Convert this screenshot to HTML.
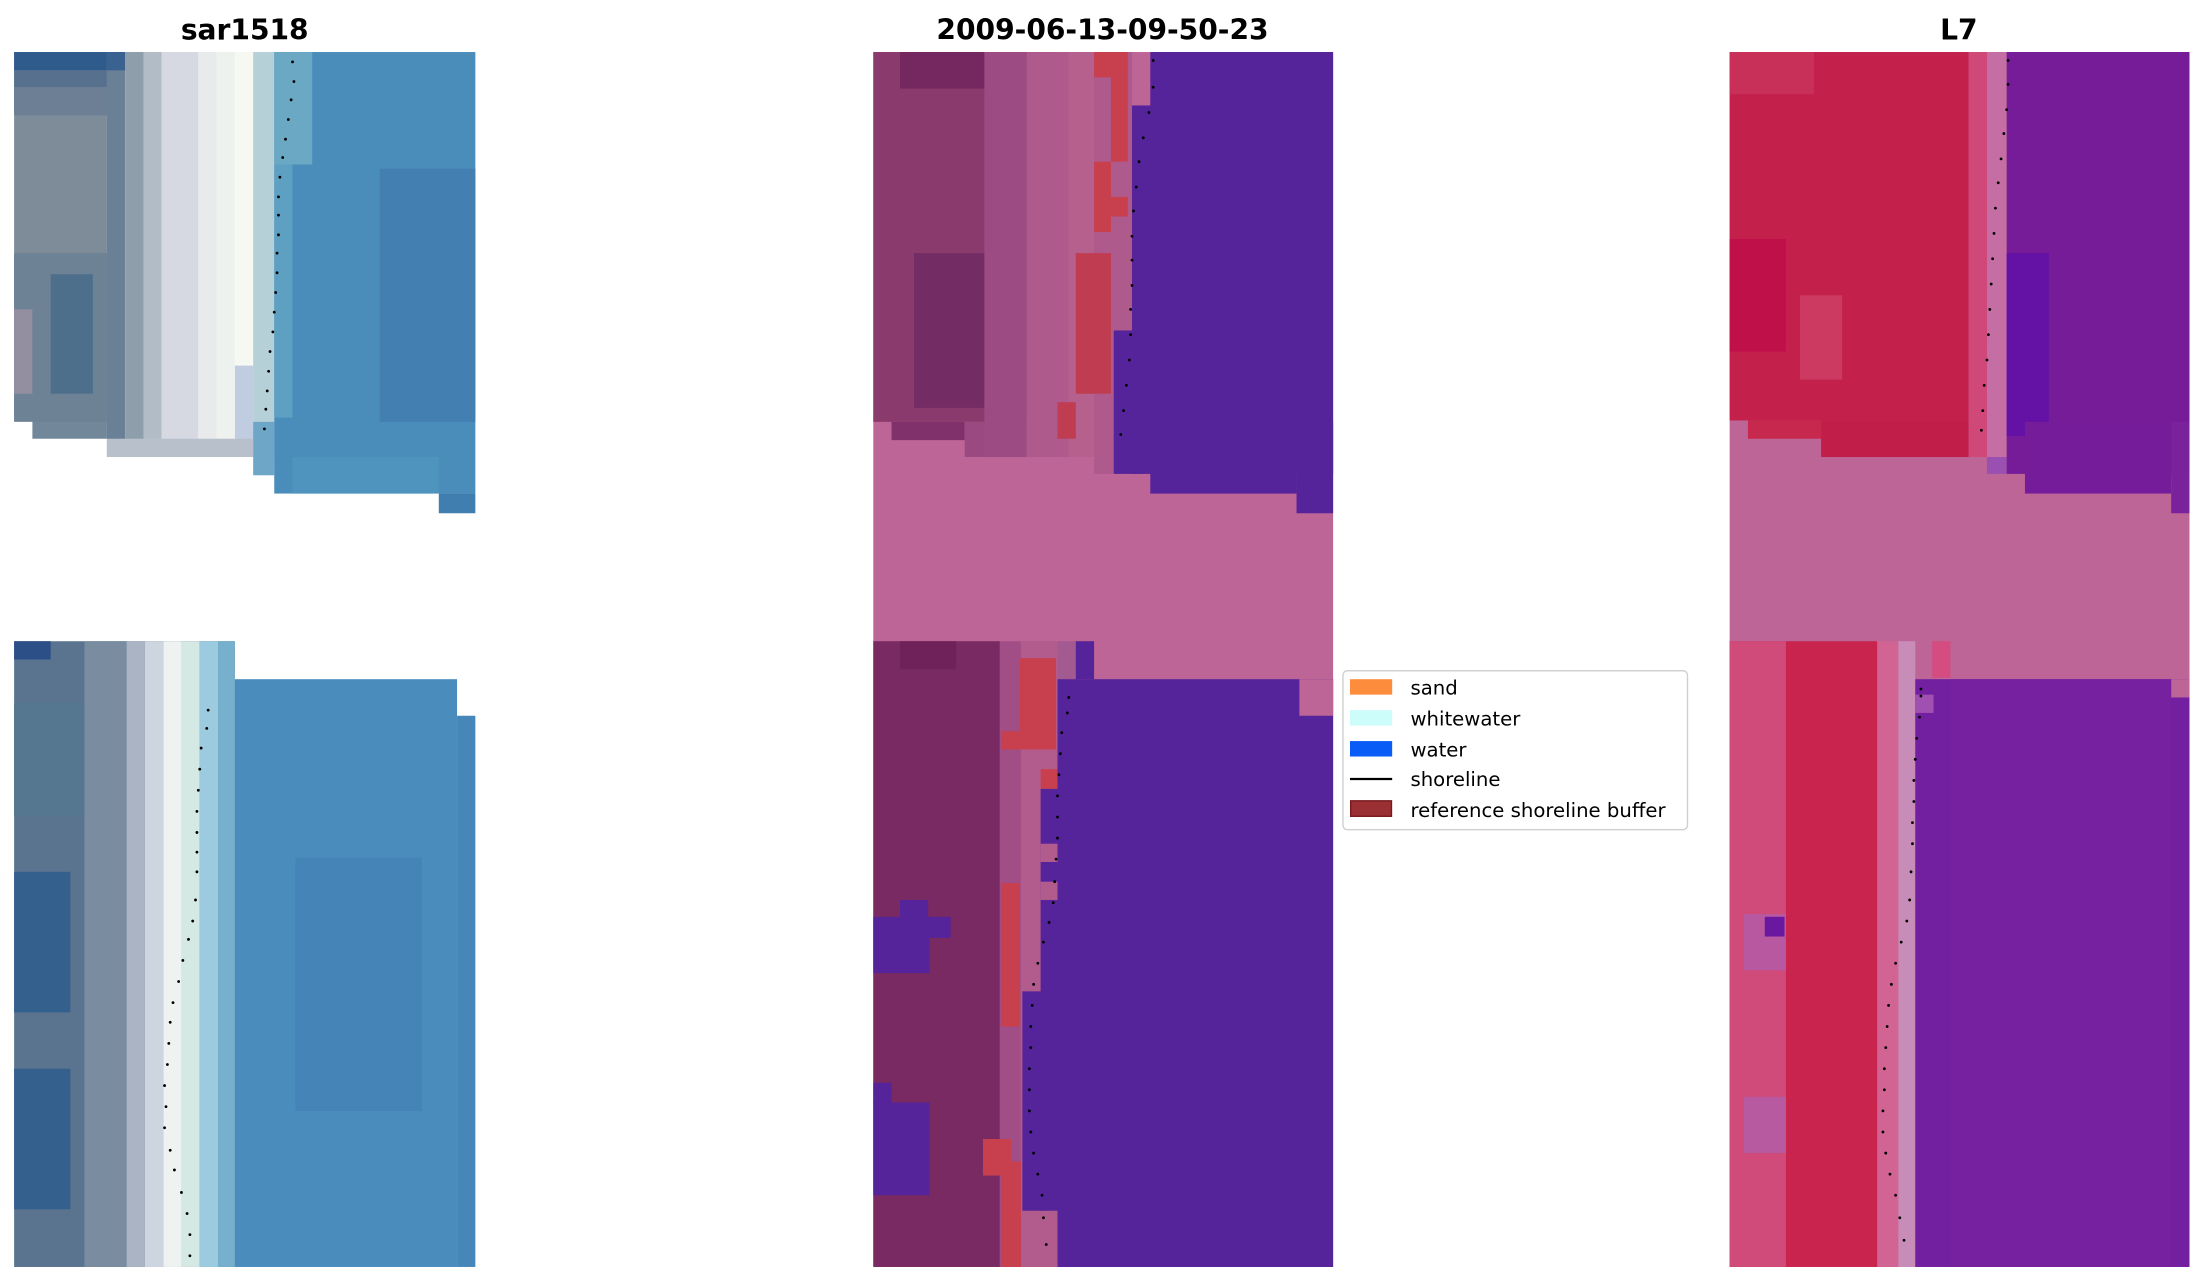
<!DOCTYPE html>
<html><head><meta charset="utf-8"><style>
html,body{margin:0;padding:0;background:#fff;width:2205px;height:1283px;overflow:hidden}
svg{display:block}
text{font-family:"DejaVu Sans","Liberation Sans",sans-serif}
</style></head><body>
<svg width="2205" height="1283" viewBox="0 0 1568 912.4" xmlns="http://www.w3.org/2000/svg">
<text x="174" y="28" font-size="20" font-weight="bold" text-anchor="middle">sar1518</text>
<text x="784" y="28" font-size="20" font-weight="bold" text-anchor="middle">2009-06-13-09-50-23</text>
<text x="1393" y="28" font-size="20" font-weight="bold" text-anchor="middle">L7</text>

<!-- PANEL 1 TOP -->
<g>
<rect x="10" y="37" width="66" height="262" fill="#7e8b99"/>
<rect x="23" y="299" width="53" height="13" fill="#72889a"/>
<rect x="10" y="37" width="66" height="13" fill="#2f5a8c"/>
<rect x="10" y="50" width="66" height="12" fill="#56708e"/>
<rect x="10" y="62" width="66" height="20" fill="#6c7f94"/>
<rect x="10" y="180" width="66" height="120" fill="#6e8296"/>
<rect x="36" y="195" width="30" height="85" fill="#4d6f8c"/>
<rect x="10" y="220" width="13" height="60" fill="#948fa0"/>
<rect x="76" y="37" width="13" height="288" fill="#6a8096"/>
<rect x="76" y="37" width="13" height="13" fill="#3a6290"/>
<rect x="89" y="37" width="13" height="288" fill="#8e9eaa"/>
<rect x="102" y="37" width="13" height="288" fill="#b2bcc6"/>
<rect x="115" y="37" width="26" height="288" fill="#d6d9e2"/>
<rect x="141" y="37" width="13" height="288" fill="#e8eaec"/>
<rect x="154" y="37" width="13" height="288" fill="#eef2ee"/>
<rect x="167" y="37" width="13" height="288" fill="#f6f8f2"/>
<rect x="167" y="260" width="13" height="65" fill="#c0cce0"/>
<rect x="180" y="37" width="15" height="288" fill="#b6d0d8"/>
<rect x="180" y="300" width="15" height="38" fill="#6ea6c8"/>
<rect x="195" y="37" width="143" height="314" fill="#4a8cba"/>
<rect x="195" y="37" width="27" height="80" fill="#6aa8c4"/>
<rect x="195" y="117" width="13" height="180" fill="#5ea0c2"/>
<rect x="208" y="325" width="104" height="26" fill="#4e94be"/>
<rect x="270" y="120" width="68" height="180" fill="#437fb0"/>
<rect x="312" y="351" width="26" height="14" fill="#3f7eae"/>
<rect x="76" y="312" width="104" height="13" fill="#b8c0cc"/>
</g>
<!-- PANEL 1 BOTTOM -->
<g>
<rect x="10" y="456" width="157" height="445" fill="#5a7490"/>
<rect x="10" y="456" width="26" height="13" fill="#2c4f88"/>
<rect x="10" y="500" width="50" height="80" fill="#557890"/>
<rect x="10" y="620" width="40" height="100" fill="#34608e"/>
<rect x="10" y="760" width="40" height="100" fill="#33608c"/>
<rect x="60" y="456" width="30" height="445" fill="#7a8ca0"/>
<rect x="90" y="456" width="13" height="445" fill="#aab4c4"/>
<rect x="103" y="456" width="13" height="445" fill="#cdd6e0"/>
<rect x="116" y="456" width="13" height="445" fill="#eef2f0"/>
<rect x="129" y="456" width="13" height="445" fill="#d4e8e4"/>
<rect x="142" y="456" width="13" height="445" fill="#9ccade"/>
<rect x="155" y="456" width="12" height="445" fill="#76b0cc"/>
<rect x="167" y="483" width="158" height="418" fill="#4a8cbc"/>
<rect x="325" y="509" width="13" height="392" fill="#4686b8"/>
<rect x="210" y="610" width="90" height="180" fill="#4584b6"/>
</g>
<g fill="#000">
<circle cx="208" cy="44" r="1"/><circle cx="209" cy="58" r="1"/><circle cx="207" cy="71" r="1"/><circle cx="205" cy="85" r="1"/><circle cx="203" cy="99" r="1"/><circle cx="201" cy="112" r="1"/><circle cx="199" cy="126" r="1"/><circle cx="198" cy="140" r="1"/><circle cx="198" cy="153" r="1"/><circle cx="198" cy="167" r="1"/><circle cx="197" cy="180" r="1"/><circle cx="197" cy="194" r="1"/><circle cx="196" cy="208" r="1"/><circle cx="195" cy="222" r="1"/><circle cx="194" cy="236" r="1"/><circle cx="192" cy="250" r="1"/><circle cx="191" cy="264" r="1"/><circle cx="190" cy="278" r="1"/><circle cx="189" cy="291" r="1"/><circle cx="188" cy="305" r="1"/>
<circle cx="148" cy="505" r="1"/><circle cx="147" cy="518" r="1"/><circle cx="143" cy="532" r="1"/><circle cx="142" cy="547" r="1"/><circle cx="141" cy="562" r="1"/><circle cx="140" cy="577" r="1"/><circle cx="140" cy="592" r="1"/><circle cx="140" cy="606" r="1"/><circle cx="140" cy="620" r="1"/><circle cx="139" cy="640" r="1"/><circle cx="137" cy="655" r="1"/><circle cx="134" cy="668" r="1"/><circle cx="130" cy="683" r="1"/><circle cx="127" cy="698" r="1"/><circle cx="123" cy="713" r="1"/><circle cx="121" cy="727" r="1"/><circle cx="120" cy="742" r="1"/><circle cx="119" cy="757" r="1"/><circle cx="117" cy="772" r="1"/><circle cx="118" cy="787" r="1"/><circle cx="117" cy="802" r="1"/><circle cx="121" cy="818" r="1"/><circle cx="124" cy="832" r="1"/><circle cx="129" cy="848" r="1"/><circle cx="133" cy="863" r="1"/><circle cx="135" cy="878" r="1"/><circle cx="135" cy="893" r="1"/>
</g>

<!-- PANEL 2 -->
<g>
<rect x="621" y="37" width="327" height="864" fill="#bd6596"/>
<rect x="621" y="37" width="130" height="263" fill="#8a3a6c"/>
<rect x="634" y="300" width="52" height="13" fill="#80306a"/>
<rect x="686" y="300" width="65" height="25" fill="#9a4a80"/>
<rect x="640" y="37" width="60" height="26" fill="#74285f"/>
<rect x="650" y="180" width="50" height="110" fill="#742c64"/>
<rect x="700" y="37" width="30" height="288" fill="#9c4c82"/>
<rect x="730" y="37" width="30" height="288" fill="#ae5a8c"/>
<rect x="760" y="37" width="18" height="288" fill="#b6608e"/>
<rect x="778" y="37" width="27" height="300" fill="#ae5a8c"/>
<rect x="778" y="37" width="24" height="18" fill="#c8404e"/>
<rect x="790" y="55" width="12" height="60" fill="#c8404e"/>
<rect x="790" y="140" width="12" height="14" fill="#c8404e"/>
<rect x="778" y="115" width="12" height="50" fill="#c8404e"/>
<rect x="765" y="180" width="25" height="100" fill="#c03c50"/>
<rect x="752" y="286" width="13" height="26" fill="#c03c50"/>
<rect x="818" y="37" width="130" height="300" fill="#55239a"/>
<rect x="805" y="75" width="20" height="262" fill="#55239a"/>
<rect x="792" y="235" width="20" height="102" fill="#55239a"/>
<rect x="818" y="300" width="104" height="51" fill="#55239a"/>
<rect x="922" y="300" width="26" height="65" fill="#55239a"/>
<rect x="621" y="456" width="90" height="445" fill="#7a2a62"/>
<rect x="640" y="456" width="40" height="20" fill="#6e2259"/>
<rect x="711" y="456" width="15" height="445" fill="#a24e86"/>
<rect x="726" y="456" width="26" height="445" fill="#b25c8e"/>
<rect x="752" y="456" width="13" height="27" fill="#a25a90"/>
<rect x="765" y="456" width="13" height="27" fill="#55239a"/>
<rect x="725" y="468" width="26" height="65" fill="#c8404e"/>
<rect x="712" y="520" width="38" height="13" fill="#c8404e"/>
<rect x="740" y="547" width="13" height="14" fill="#c8404e"/>
<rect x="712" y="628" width="13" height="102" fill="#c8404e"/>
<rect x="699" y="810" width="20" height="26" fill="#c8404e"/>
<rect x="712" y="826" width="14" height="75" fill="#c8404e"/>
<rect x="752" y="483" width="196" height="418" fill="#55239a"/>
<rect x="740" y="561" width="15" height="300" fill="#55239a"/>
<rect x="727" y="705" width="15" height="156" fill="#55239a"/>
<rect x="740" y="600" width="12" height="13" fill="#b25c8e"/>
<rect x="740" y="627" width="12" height="13" fill="#b25c8e"/>
<rect x="924" y="483" width="24" height="26" fill="#bd6596"/>
<rect x="621" y="652" width="40" height="40" fill="#55239a"/>
<rect x="640" y="640" width="20" height="14" fill="#55239a"/>
<rect x="661" y="652" width="15" height="15" fill="#55239a"/>
<rect x="621" y="770" width="13" height="15" fill="#55239a"/>
<rect x="621" y="784" width="40" height="66" fill="#55239a"/>
</g>
<g fill="#000">
<circle cx="820" cy="43" r="1"/><circle cx="820" cy="62" r="1"/><circle cx="817" cy="80" r="1"/><circle cx="813" cy="98" r="1"/><circle cx="810" cy="115" r="1"/><circle cx="808" cy="133" r="1"/><circle cx="806" cy="150" r="1"/><circle cx="805" cy="168" r="1"/><circle cx="805" cy="185" r="1"/><circle cx="805" cy="203" r="1"/><circle cx="804" cy="220" r="1"/><circle cx="804" cy="238" r="1"/><circle cx="803" cy="256" r="1"/><circle cx="801" cy="274" r="1"/><circle cx="799" cy="292" r="1"/><circle cx="797" cy="309" r="1"/>
<circle cx="760" cy="496" r="1"/><circle cx="759" cy="507" r="1"/><circle cx="755" cy="521" r="1"/><circle cx="754" cy="536" r="1"/><circle cx="753" cy="551" r="1"/><circle cx="752" cy="566" r="1"/><circle cx="752" cy="581" r="1"/><circle cx="752" cy="596" r="1"/><circle cx="751" cy="611" r="1"/><circle cx="750" cy="627" r="1"/><circle cx="749" cy="642" r="1"/><circle cx="746" cy="656" r="1"/><circle cx="742" cy="670" r="1"/><circle cx="738" cy="685" r="1"/><circle cx="735" cy="700" r="1"/><circle cx="734" cy="715" r="1"/><circle cx="733" cy="730" r="1"/><circle cx="733" cy="745" r="1"/><circle cx="732" cy="760" r="1"/><circle cx="732" cy="775" r="1"/><circle cx="732" cy="790" r="1"/><circle cx="733" cy="805" r="1"/><circle cx="735" cy="820" r="1"/><circle cx="738" cy="835" r="1"/><circle cx="741" cy="850" r="1"/><circle cx="742" cy="866" r="1"/><circle cx="744" cy="885" r="1"/>
</g>

<!-- PANEL 3 -->
<g>
<rect x="1230" y="37" width="327" height="864" fill="#bd6596"/>
<rect x="1230" y="37" width="170" height="262" fill="#c4204c"/>
<rect x="1243" y="299" width="52" height="13" fill="#c6284e"/>
<rect x="1295" y="299" width="105" height="26" fill="#c21e4a"/>
<rect x="1230" y="37" width="60" height="30" fill="#c8305a"/>
<rect x="1230" y="170" width="40" height="80" fill="#c0104a"/>
<rect x="1280" y="210" width="30" height="60" fill="#cc3a62"/>
<rect x="1400" y="37" width="13" height="288" fill="#d04878"/>
<rect x="1413" y="37" width="14" height="300" fill="#c46ea4"/>
<rect x="1413" y="325" width="14" height="12" fill="#9a50b0"/>
<rect x="1427" y="37" width="130" height="300" fill="#761c98"/>
<rect x="1427" y="180" width="30" height="130" fill="#6412a6"/>
<rect x="1440" y="300" width="104" height="51" fill="#741c9a"/>
<rect x="1544" y="300" width="13" height="65" fill="#7a229c"/>
<rect x="1230" y="456" width="105" height="445" fill="#c8244e"/>
<rect x="1230" y="456" width="40" height="445" fill="#d04a7a"/>
<rect x="1240" y="650" width="30" height="40" fill="#b858a0"/>
<rect x="1255" y="652" width="14" height="14" fill="#6a18a0"/>
<rect x="1240" y="780" width="30" height="40" fill="#b85aa0"/>
<rect x="1335" y="456" width="15" height="445" fill="#d26494"/>
<rect x="1350" y="456" width="12" height="445" fill="#c88cb8"/>
<rect x="1374" y="456" width="13" height="26" fill="#d44c80"/>
<rect x="1362" y="483" width="195" height="418" fill="#7220a0"/>
<rect x="1387" y="483" width="157" height="418" fill="#7622a0"/>
<rect x="1544" y="483" width="13" height="13" fill="#bd6596"/>
<rect x="1362" y="494" width="13" height="13" fill="#a050b0"/>
</g>
<g fill="#000">
<circle cx="1428" cy="43" r="1"/><circle cx="1428" cy="60" r="1"/><circle cx="1427" cy="78" r="1"/><circle cx="1425" cy="95" r="1"/><circle cx="1423" cy="113" r="1"/><circle cx="1421" cy="130" r="1"/><circle cx="1419" cy="148" r="1"/><circle cx="1418" cy="166" r="1"/><circle cx="1417" cy="184" r="1"/><circle cx="1416" cy="202" r="1"/><circle cx="1415" cy="220" r="1"/><circle cx="1414" cy="238" r="1"/><circle cx="1413" cy="256" r="1"/><circle cx="1411" cy="274" r="1"/><circle cx="1410" cy="292" r="1"/><circle cx="1409" cy="306" r="1"/>
<circle cx="1366" cy="490" r="1"/><circle cx="1366" cy="495" r="1"/><circle cx="1365" cy="510" r="1"/><circle cx="1363" cy="525" r="1"/><circle cx="1362" cy="540" r="1"/><circle cx="1361" cy="555" r="1"/><circle cx="1361" cy="570" r="1"/><circle cx="1360" cy="585" r="1"/><circle cx="1360" cy="600" r="1"/><circle cx="1359" cy="620" r="1"/><circle cx="1358" cy="640" r="1"/><circle cx="1356" cy="655" r="1"/><circle cx="1352" cy="670" r="1"/><circle cx="1348" cy="685" r="1"/><circle cx="1345" cy="700" r="1"/><circle cx="1343" cy="715" r="1"/><circle cx="1342" cy="730" r="1"/><circle cx="1341" cy="745" r="1"/><circle cx="1340" cy="760" r="1"/><circle cx="1340" cy="775" r="1"/><circle cx="1339" cy="790" r="1"/><circle cx="1339" cy="805" r="1"/><circle cx="1341" cy="820" r="1"/><circle cx="1344" cy="835" r="1"/><circle cx="1348" cy="850" r="1"/><circle cx="1351" cy="866" r="1"/><circle cx="1354" cy="882" r="1"/>
</g>

<!-- LEGEND -->
<g>
<rect x="955" y="477" width="245" height="113" rx="3" fill="#fff" stroke="#d0d0d0" stroke-width="1"/>
<rect x="960" y="483" width="30" height="11" fill="#fd8d3c"/>
<text x="1003" y="494" font-size="14">sand</text>
<rect x="960" y="505" width="30" height="11" fill="#ccfdfb"/>
<text x="1003" y="516" font-size="14">whitewater</text>
<rect x="960" y="527" width="30" height="11" fill="#0a5cf6"/>
<text x="1003" y="538" font-size="14">water</text>
<line x1="960" y1="554" x2="990" y2="554" stroke="#000" stroke-width="1.6"/>
<text x="1003" y="559" font-size="14">shoreline</text>
<rect x="960.5" y="569.5" width="29" height="11" fill="#9a3034" stroke="#7a1a1e" stroke-width="1"/>
<text x="1003" y="581" font-size="14">reference shoreline buffer</text>
</g>
</svg>
</body></html>
